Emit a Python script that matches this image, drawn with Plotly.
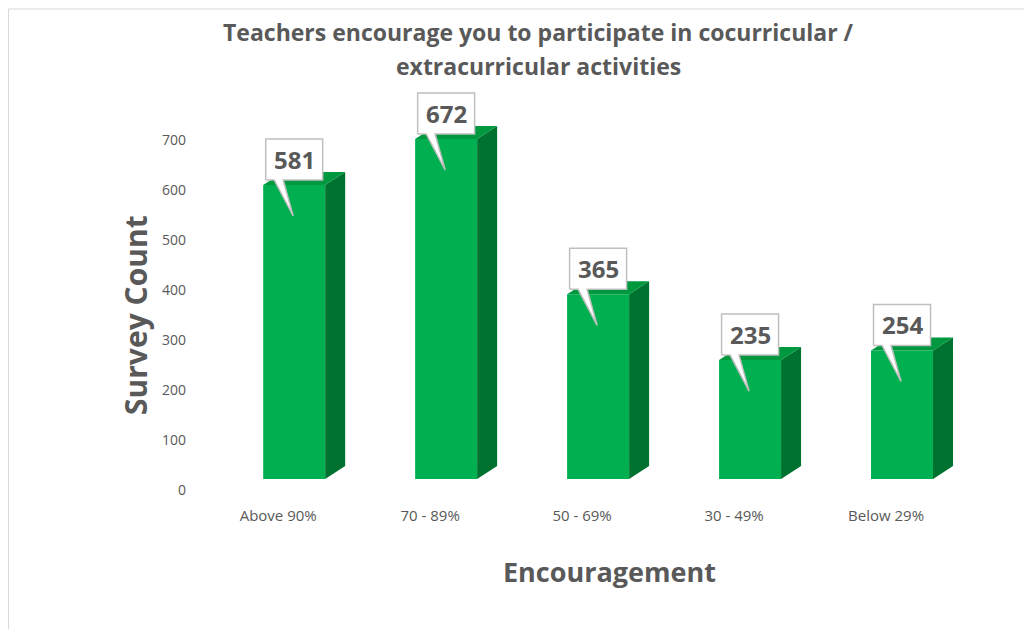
import plotly.graph_objects as go

# ---- data ----
categories = ["Above 90%", "70 - 89%", "50 - 69%", "30 - 49%", "Below 29%"]
values = [581, 672, 365, 235, 254]
y_ticks = [0, 100, 200, 300, 400, 500, 600, 700]
title_lines = ["Teachers encourage you to participate in cocurricular /",
               "extracurricular activities"]
x_title = "Encouragement"
y_title = "Survey Count"

# ---- styling / geometry (pixel based helpers) ----
W_PX, H_PX = 1032, 629
PAGE_OFF = 8  # page body margin
PLOT_L, PLOT_T, PLOT_W, PLOT_H = 187, 90, 813, 410  # target screen pixels
M_L = PLOT_L - PAGE_OFF
M_T = PLOT_T - PAGE_OFF
M_R = W_PX - M_L - PLOT_W
M_B = H_PX - M_T - PLOT_H
X_RANGE = [-0.6, 4.75]
Y_RANGE = [-20, 800]
PX_X = PLOT_W / (X_RANGE[1] - X_RANGE[0])
PX_Y = PLOT_H / (Y_RANGE[1] - Y_RANGE[0])


def ux(px):
    return px / PX_X


def uy(px):
    return px / PX_Y


def paper_x(px):
    return (px - PLOT_L) / PLOT_W


def paper_y(py):
    return (PLOT_T + PLOT_H - py) / PLOT_H


FRONT = "#00B050"
SIDE = "#00722F"
TOP = "#00983F"
TXT = "#595959"
FONT = "Open Sans"

FLOOR = uy(11)
PERSP = 1.012
OFFSET = ux(16)
BAR_W = ux(62)
DX, DY = ux(20), uy(13)

n = len(values)
xs = [i + OFFSET for i in range(n)]
tops = [FLOOR + v * PERSP for v in values]

fig = go.Figure()

# front faces
fig.add_trace(go.Bar(
    x=xs, y=[t - FLOOR for t in tops], base=FLOOR, width=BAR_W,
    marker=dict(color=FRONT, line=dict(width=0)),
    hoverinfo="skip", showlegend=False))

# side and top faces
for c, t in zip(xs, tops):
    xl, xr = c - BAR_W / 2, c + BAR_W / 2
    fig.add_trace(go.Scatter(
        x=[xr, xr + DX, xr + DX, xr, xr],
        y=[FLOOR, FLOOR + DY, t + DY, t, FLOOR],
        fill="toself", fillcolor=SIDE, mode="lines", line=dict(width=0),
        hoverinfo="skip", showlegend=False))
    fig.add_trace(go.Scatter(
        x=[xl, xl + DX, xr + DX, xr, xl],
        y=[t, t + DY, t + DY, t, t],
        fill="toself", fillcolor=TOP, mode="lines", line=dict(width=0),
        hoverinfo="skip", showlegend=False))

# callouts
HW = ux(28.5)
BB, BT = uy(5), uy(46)
for c, t, v in zip(xs, tops, values):
    px = [c - HW, c - HW, c + HW, c + HW, c - ux(11), c - ux(1), c - ux(20), c - HW]
    py = [t + BB, t + BT, t + BT, t + BB, t + BB, t - uy(31), t + BB, t + BB]
    fig.add_trace(go.Scatter(
        x=px, y=py, fill="toself", fillcolor="white", mode="lines",
        line=dict(color="#BFBFBF", width=1.5),
        hoverinfo="skip", showlegend=False))
    fig.add_annotation(x=c, y=t, xref="x", yref="y", yshift=25.5,
                       text=f"<b>{v}</b>", showarrow=False,
                       font=dict(family=FONT, size=24, color=TXT))

# titles
for txt, py in zip(title_lines, [32, 66]):
    fig.add_annotation(x=paper_x(538), y=paper_y(py), xref="paper", yref="paper",
                       text=f"<b>{txt}</b>", showarrow=False,
                       xanchor="center", yanchor="middle",
                       font=dict(family=FONT, size=23, color=TXT))
fig.add_annotation(x=paper_x(609), y=paper_y(571), xref="paper", yref="paper",
                   text=f"<b>{x_title}</b>", showarrow=False,
                   xanchor="center", yanchor="middle",
                   font=dict(family=FONT, size=27, color=TXT))
fig.add_annotation(x=paper_x(135), y=paper_y(315), xref="paper", yref="paper",
                   text=f"<b>{y_title}</b>", showarrow=False, textangle=-90,
                   xanchor="center", yanchor="middle",
                   font=dict(family=FONT, size=30, color=TXT))

# chart border
fig.add_shape(type="rect", xref="paper", yref="paper",
              x0=paper_x(8.5), x1=paper_x(1045), y0=paper_y(640), y1=paper_y(9),
              line=dict(color="#D9D9D9", width=1), fillcolor="rgba(0,0,0,0)",
              layer="below")

fig.update_layout(
    width=W_PX, height=H_PX,
    margin=dict(l=M_L, r=M_R, t=M_T, b=M_B),
    paper_bgcolor="white", plot_bgcolor="white",
    showlegend=False,
    xaxis=dict(range=X_RANGE, tickvals=list(range(n)), ticktext=categories,
               showgrid=False, zeroline=False, showline=False, ticks="",
               ticklabelstandoff=5,
               tickfont=dict(family=FONT, size=15, color=TXT)),
    yaxis=dict(range=Y_RANGE, tickvals=y_ticks, showgrid=False, zeroline=False,
               showline=False, ticks="",
               tickfont=dict(family=FONT, size=14, color=TXT)),
)

fig.write_html("out.html")
